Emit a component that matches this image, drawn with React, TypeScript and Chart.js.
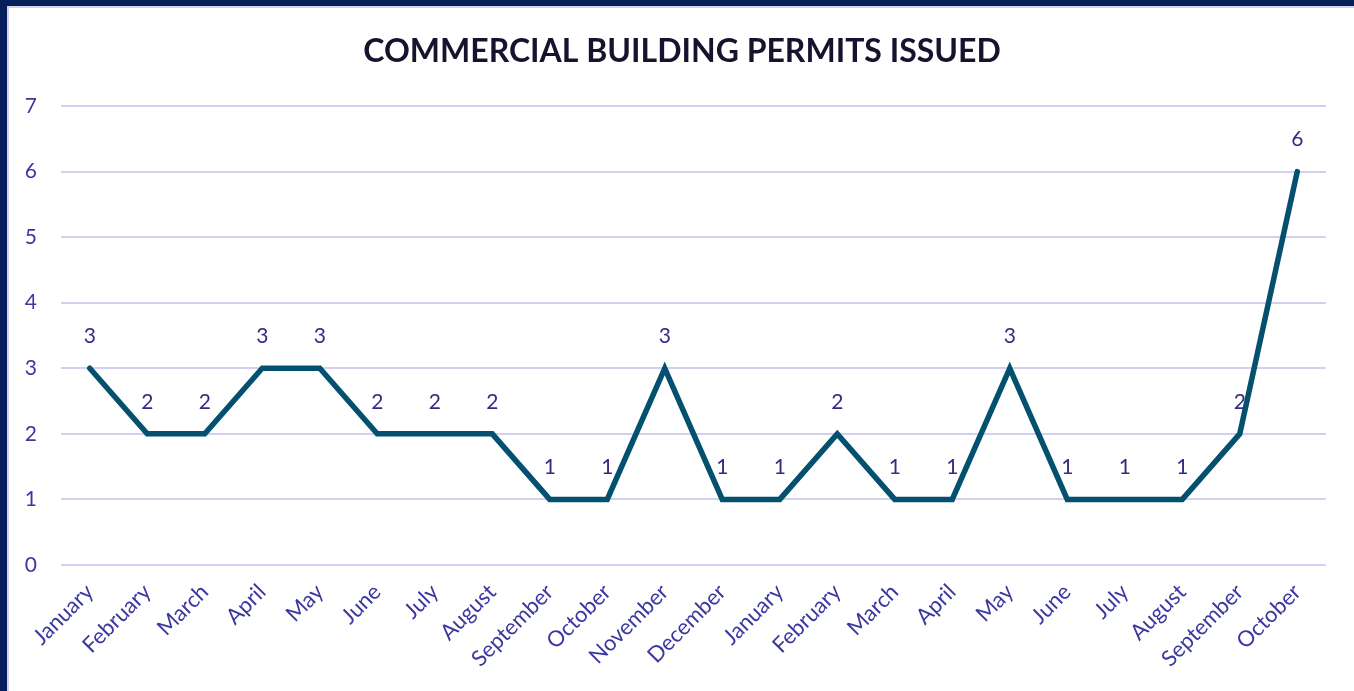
import React, { useEffect, useRef } from "react";
import { Chart, registerables } from "chart.js";

Chart.register(...registerables);

const TITLE = "COMMERCIAL BUILDING PERMITS ISSUED";
const MONTHS = [
  "January", "February", "March", "April", "May", "June", "July", "August",
  "September", "October", "November", "December",
  "January", "February", "March", "April", "May", "June", "July", "August",
  "September", "October",
];
const PERMITS = [3, 2, 2, 3, 3, 2, 2, 2, 1, 1, 3, 1, 1, 2, 1, 1, 3, 1, 1, 1, 2, 6];
const Y_MIN = 0;
const Y_MAX = 7;

const FONT = "Lato, 'Open Sans', sans-serif";

const dataLabelPlugin = {
  id: "dataLabels",
  afterDatasetsDraw(chart: any) {
    const ctx = chart.ctx;
    const meta = chart.getDatasetMeta(0);
    const data = chart.data.datasets[0].data;
    ctx.save();
    ctx.font = `21px ${FONT}`;
    ctx.fillStyle = "#382a84";
    ctx.textAlign = "center";
    ctx.textBaseline = "middle";
    meta.data.forEach((pt: any, i: number) => {
      ctx.fillText(String(data[i]), pt.x, pt.y - 32);
    });
    ctx.restore();
  },
};

const titlePlugin = {
  id: "customTitle",
  afterDraw(chart: any) {
    const ctx = chart.ctx;
    ctx.save();
    ctx.font = `bold 32px ${FONT}`;
    ctx.fillStyle = "#15132e";
    ctx.textAlign = "center";
    ctx.textBaseline = "middle";
    ctx.fillText(TITLE, 682, 52);
    ctx.restore();
  },
};

export default function App() {
  const ref = useRef<HTMLCanvasElement | null>(null);
  useEffect(() => {
    document.body.style.margin = "0";
    if (!ref.current) return;
    const chart = new Chart(ref.current, {
      type: "line",
      data: {
        labels: MONTHS,
        datasets: [
          {
            data: PERMITS,
            borderColor: "#03506f",
            borderWidth: 5.5,
            borderCapStyle: "round",
            borderJoinStyle: "miter",
            pointRadius: 0,
            tension: 0,
            fill: false,
          },
        ],
      },
      options: {
        animation: false,
        responsive: false,
        maintainAspectRatio: false,
        layout: { padding: { left: 8, right: 28, top: 106, bottom: 0 } },
        plugins: {
          legend: { display: false },
          tooltip: { enabled: false },
          title: { display: false },
        },
        scales: {
          x: {
            offset: true,
            grid: { display: false, drawTicks: false },
            border: { display: false },
            ticks: {
              color: "#3b38a0",
              font: { family: FONT, size: 22 },
              maxRotation: 45,
              minRotation: 45,
              autoSkip: false,
              padding: 14,
            },
            afterFit(scale: any) {
              scale.height = 126;
            },
          },
          y: {
            min: Y_MIN,
            max: Y_MAX,
            grid: { color: "#d3cff0", lineWidth: 2, drawTicks: false },
            border: { display: false },
            ticks: {
              stepSize: 1,
              color: "#3b38a0",
              font: { family: FONT, size: 21 },
              padding: 24,
            },
            afterFit(scale: any) {
              scale.width = 53;
            },
          },
        },
      },
      plugins: [dataLabelPlugin, titlePlugin],
    });
    return () => chart.destroy();
  }, []);

  return (
    <div
      style={{
        position: "fixed",
        left: 0,
        top: 0,
        width: 1354,
        height: 691,
        background: "#ffffff",
        overflow: "hidden",
      }}
    >
      <div
        style={{
          position: "absolute",
          left: 0,
          top: 0,
          width: 1354,
          height: 691,
          boxSizing: "border-box",
          borderLeft: "7px solid #061f5a",
          borderTop: "6px solid #061f5a",
        }}
      >
        <div
          style={{
            width: "100%",
            height: "100%",
            boxSizing: "border-box",
            borderLeft: "2px solid #d4d0f0",
            borderTop: "2px solid #d4d0f0",
          }}
        />
      </div>
      <canvas
        ref={ref}
        width={1354}
        height={691}
        style={{ position: "absolute", left: 0, top: 0, width: 1354, height: 691 }}
      />
    </div>
  );
}
